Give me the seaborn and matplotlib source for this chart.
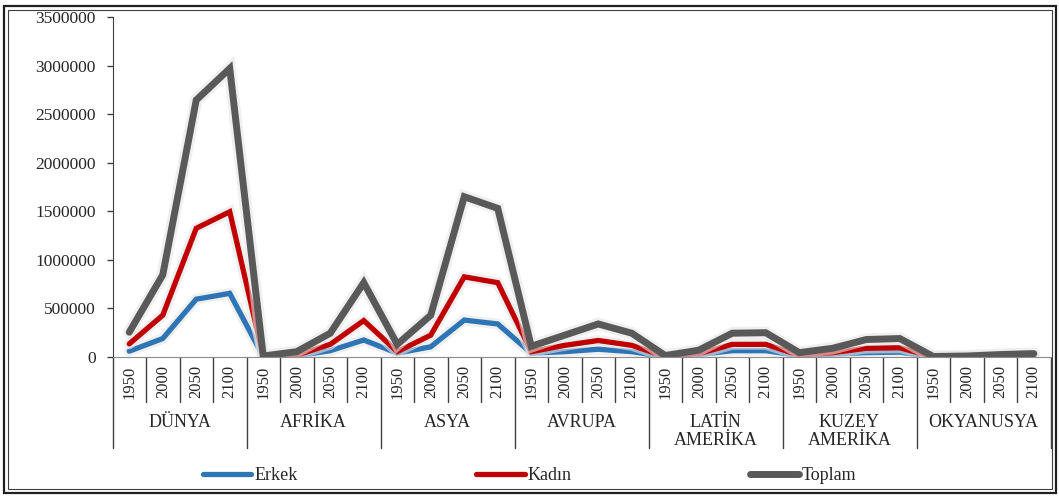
import numpy as np
import pandas as pd
import matplotlib
matplotlib.use("Agg")
import matplotlib.pyplot as plt
import matplotlib.patheffects as pe
from matplotlib.patches import Rectangle
from matplotlib.ticker import FuncFormatter
import seaborn as sns

# bolgeler ve yillar
regions = ["DÜNYA", "AFRİKA", "ASYA", "AVRUPA", "LATİN\nAMERİKA", "KUZEY\nAMERİKA", "OKYANUSYA"]
years = ["1950", "2000", "2050", "2100"]

erkek = [60000, 190000, 595000, 655000,
         3000, 12000, 65000, 175000,
         40000, 105000, 380000, 340000,
         40000, 55000, 80000, 55000,
         3000, 25000, 65000, 65000,
         15000, 30000, 45000, 50000,
         2000, 4000, 8000, 12000]
kadin = [135000, 430000, 1325000, 1495000,
         5000, 20000, 130000, 375000,
         55000, 225000, 825000, 765000,
         55000, 120000, 170000, 120000,
         5000, 35000, 130000, 130000,
         20000, 45000, 90000, 95000,
         2000, 5000, 10000, 15000]
toplam = [255000, 845000, 2645000, 2970000,
          10000, 55000, 245000, 765000,
          130000, 430000, 1650000, 1530000,
          110000, 225000, 340000, 245000,
          15000, 70000, 245000, 250000,
          45000, 90000, 180000, 190000,
          5000, 10000, 25000, 35000]

series_names = ["Erkek", "Kadın", "Toplam"]
colors = ["#2E75B6", "#C00000", "#595959"]
widths = [3.8, 3.8, 5.0]

n = len(regions) * len(years)
rows = []
for name, vals in zip(series_names, [erkek, kadin, toplam]):
    for i, v in enumerate(vals):
        rows.append({"pos": i, "deger": v, "seri": name})
df = pd.DataFrame(rows)

sns.set_style("white")
plt.rcParams['font.family'] = ['Liberation Serif', 'DejaVu Serif']

fig = plt.figure(figsize=(10.59, 4.96), dpi=100)
ax = fig.add_axes([112.5 / 1059, 1 - 357 / 496, 938 / 1059, 340 / 496])

sns.lineplot(data=df, x="pos", y="deger", hue="seri", hue_order=series_names,
             palette=colors, ax=ax, legend=True)

for line, lw in zip(ax.lines, widths):
    line.set_linewidth(lw)
    line.set_solid_joinstyle("miter")
    line.set_path_effects([pe.Stroke(linewidth=lw + 4, foreground="#e6e6e6", alpha=0.6),
                           pe.Normal()])

ax.set_xlim(-0.5, n - 0.5)
ax.set_ylim(0, 3500000)
ax.set_yticks(np.arange(0, 3500001, 500000))
ax.yaxis.set_major_formatter(FuncFormatter(lambda v, p: f"{int(v)}"))
ax.tick_params(axis="y", left=True, length=4, width=1, color="#404040", pad=8, labelsize=12.5)

year_labels = years * len(regions)
ax.set_xticks(range(n))
ax.set_xticklabels(year_labels, rotation=90, fontsize=12)
ax.tick_params(axis="x", length=0, pad=6)
ax.set_xlabel("")
ax.set_ylabel("")

for s in ["top", "right"]:
    ax.spines[s].set_visible(False)
ax.spines["left"].set_color("#404040")
ax.spines["bottom"].set_color("#8c8c8c")

# kategori ayraclari
tr = ax.get_xaxis_transform()
for b in range(n + 1):
    xb = b - 0.5
    if b % 4 == 0:
        ax.plot([xb, xb], [0, -91 / 340], transform=tr, color="#404040", lw=1, clip_on=False)
    else:
        ax.plot([xb, xb], [0, -45 / 340], transform=tr, color="#404040", lw=1, clip_on=False)

for g, reg in enumerate(regions):
    ax.text(g * 4 + 1.5, -57 / 340, reg, transform=tr, ha="center", va="top",
            fontsize=13, multialignment="center", linespacing=1.1)

handles, labels = ax.get_legend_handles_labels()
ax.get_legend().remove()
for h, lw in zip(handles, widths):
    h.set_linewidth(lw)
fig.legend(handles, labels, loc="center", bbox_to_anchor=(0.5, 1 - 476 / 496), ncol=3,
           frameon=False, handlelength=2.7, handletextpad=0.15, columnspacing=9.9,
           fontsize=13)

# cift cerceve
W, H = 1059, 496
fig.add_artist(Rectangle((3.5 / W, 3.5 / H), (W - 7) / W, (H - 9) / H, transform=fig.transFigure,
                         fill=False, lw=1.6, edgecolor="#202020"))
fig.add_artist(Rectangle((7.5 / W, 7.5 / H), (W - 15) / W, (H - 17) / H, transform=fig.transFigure,
                         fill=False, lw=0.8, edgecolor="#404040"))

fig.savefig("out.png", dpi=100)
